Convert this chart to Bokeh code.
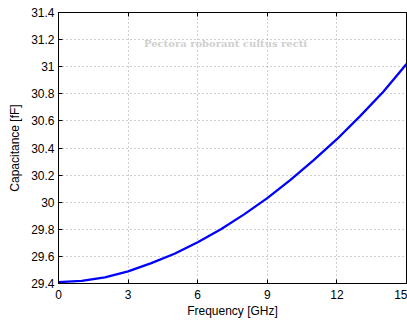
from bokeh.plotting import figure
from bokeh.models import Range1d, FixedTicker, LinearAxis, Label
from bokeh.embed import file_html
from bokeh.resources import INLINE

# data
freq_ghz = [0, 1, 2, 3, 4, 5, 6, 7, 8, 9, 10, 11, 12, 13, 14, 15]
cap_ff = [29.410, 29.420, 29.445, 29.490, 29.550, 29.620, 29.705, 29.800,
          29.910, 30.030, 30.165, 30.310, 30.465, 30.635, 30.815, 31.020]

x_ticks = [0, 3, 6, 9, 12, 15]
x_tick_labels = ["0", "3", "6", "9", "12", "15"]
y_ticks = [29.4, 29.6, 29.8, 30.0, 30.2, 30.4, 30.6, 30.8, 31.0, 31.2, 31.4]
y_tick_labels = ["29.4", "29.6", "29.8", "30", "30.2", "30.4", "30.6",
                 "30.8", "31", "31.2", "31.4"]

x_title = "Frequency [GHz]"
y_title = "Capacitance [fF]"
watermark = "Pectora roborant cultus recti"

FONT = "Liberation Sans"

p = figure(width=407, height=320, output_backend="svg", toolbar_location=None,
           x_range=Range1d(0, 15), y_range=Range1d(29.4, 31.4),
           min_border_left=58, min_border_right=1, min_border_top=12,
           min_border_bottom=34)
p.background_fill_color = "white"
p.border_fill_color = "white"
p.outline_line_color = "black"
p.outline_line_width = 1

# watermark text
p.add_layout(Label(x=7.2, y=31.17, text=watermark, text_align="center",
                   text_baseline="middle", text_color="#cfcfcf",
                   text_font="DejaVu Serif", text_font_size="10px",
                   text_font_style="bold"))

p.line(freq_ghz, cap_ff, line_color="#0000ff", line_width=2.3,
       line_join="round")

for ax in (p.xaxis[0], p.yaxis[0]):
    ax.major_label_text_font = FONT
    ax.major_label_text_font_size = "12px"
    ax.major_label_text_color = "black"
    ax.axis_line_color = "black"
    ax.major_tick_line_color = "black"
    ax.major_tick_in = 4
    ax.major_tick_out = 0
    ax.minor_tick_line_color = None
    ax.axis_label_text_font = FONT
    ax.axis_label_text_font_size = "12px"
    ax.axis_label_text_font_style = "normal"
    ax.axis_label_text_color = "black"

p.xaxis[0].ticker = FixedTicker(ticks=x_ticks)
p.xaxis[0].major_label_overrides = {t: s for t, s in zip(x_ticks, x_tick_labels)}
p.xaxis[0].major_label_standoff = 6
p.xaxis[0].axis_label = x_title
p.xaxis[0].axis_label_standoff = 2

p.yaxis[0].ticker = FixedTicker(ticks=y_ticks)
p.yaxis[0].major_label_overrides = {t: s for t, s in zip(y_ticks, y_tick_labels)}
p.yaxis[0].major_label_standoff = 4
p.yaxis[0].axis_label = y_title
p.yaxis[0].axis_label_standoff = 6

top = LinearAxis(ticker=FixedTicker(ticks=x_ticks),
                 major_label_overrides={t: "" for t in x_ticks},
                 major_label_standoff=0, major_tick_in=4, major_tick_out=0,
                 minor_tick_line_color=None, axis_line_color="black")
p.add_layout(top, "above")

for g in (p.xgrid[0], p.ygrid[0]):
    g.grid_line_color = "#808080"
    g.grid_line_dash = "1 3"
    g.grid_line_width = 1
    g.grid_line_alpha = 0.75
p.xgrid[0].ticker = FixedTicker(ticks=x_ticks)
p.ygrid[0].ticker = FixedTicker(ticks=y_ticks)

open("out.html", "w").write(file_html(p, INLINE))
